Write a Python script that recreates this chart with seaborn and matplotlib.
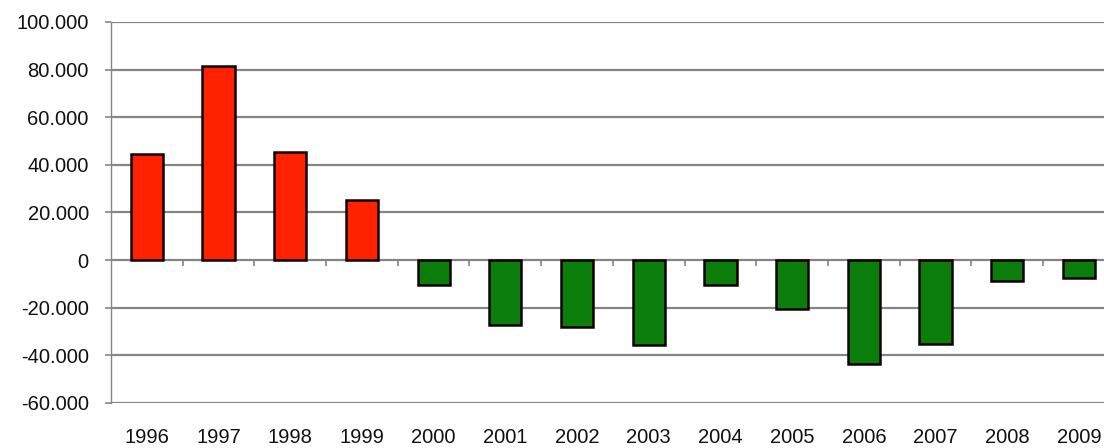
import matplotlib
matplotlib.use("Agg")
import matplotlib.pyplot as plt
import matplotlib.ticker as mticker
import seaborn as sns
import pandas as pd

years = ["1996", "1997", "1998", "1999", "2000", "2001", "2002",
         "2003", "2004", "2005", "2006", "2007", "2008", "2009"]
values = [44500, 81500, 45400, 25200, -10500, -27300, -28100,
          -35700, -10500, -20600, -43700, -35300, -8800, -7500]
y_ticks = [-60000, -40000, -20000, 0, 20000, 40000, 60000, 80000, 100000]

df = pd.DataFrame({"year": years, "value": values})
df["sign"] = ["pos" if v >= 0 else "neg" for v in values]

sns.set_style("white")
plt.rcParams["font.family"] = ["Liberation Sans", "DejaVu Sans"]

fig = plt.figure(figsize=(11.04, 4.48), dpi=100)
ax = fig.add_axes([111 / 1104, 1 - 403 / 448, 1 - 111 / 1104, (403 - 22) / 448])

grid_col = "#858585"
for yv in y_ticks:
    ax.axhline(yv, color=grid_col, lw=1.6, zorder=0)

sns.barplot(data=df, x="year", y="value", hue="sign", order=years,
            palette={"pos": "#ff2200", "neg": "#0b7d0b"}, width=0.45,
            saturation=1, edgecolor="#100000", linewidth=1.8,
            legend=False, ax=ax, zorder=3)

ax.set_ylim(-60000, 100000)
ax.set_xlim(-0.5, 13.35)
ax.set_yticks(y_ticks)
ax.yaxis.set_major_formatter(
    mticker.FuncFormatter(lambda v, p: f"{int(v):,}".replace(",", ".")))
ax.set_xlabel("")
ax.set_ylabel("")

for s in ["top", "right", "bottom"]:
    ax.spines[s].set_visible(False)
ax.spines["left"].set_color(grid_col)
ax.spines["left"].set_linewidth(1.0)

ax.tick_params(axis="y", length=4, width=1.2, color=grid_col, pad=12,
               labelsize=14.5, labelcolor="#111111", left=True)
ax.tick_params(axis="x", length=0, pad=18, labelsize=14.5,
               labelcolor="#111111")

# small category separators on the zero line
zero_frac = 60000 / 160000
sec = ax.secondary_xaxis(zero_frac)
sec.set_xticks([i + 0.5 for i in range(len(years) - 1)])
sec.xaxis.set_major_formatter(mticker.NullFormatter())
sec.xaxis.set_ticks_position("bottom")
sec.tick_params(axis="x", length=4, width=1.2, color=grid_col,
                direction="out")
sec.spines["bottom"].set_visible(False)
sec.spines["top"].set_visible(False)

fig.savefig("out.png", dpi=100)
